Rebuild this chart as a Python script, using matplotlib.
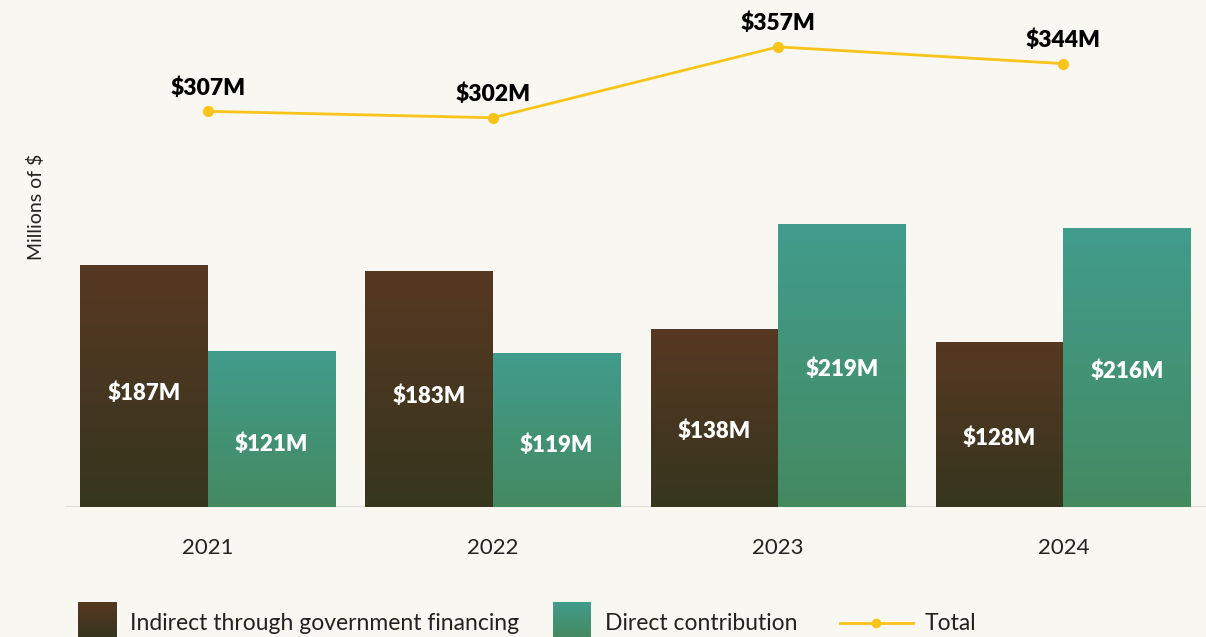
import matplotlib
matplotlib.use("Agg")
import matplotlib.pyplot as plt
import numpy as np
from matplotlib.colors import LinearSegmentedColormap
from matplotlib.lines import Line2D

# data
years = ["2021", "2022", "2023", "2024"]
indirect = [187, 183, 138, 128]
direct = [121, 119, 219, 216]
total = [307, 302, 357, 344]

BG = "#f8f7f1"
BROWN = ("#573822", "#36361f")   # top, bottom
TEAL = ("#419c8c", "#448a61")
YELLOW = "#f8c41a"

plt.rcParams["font.family"] = ["Lato", "DejaVu Sans"]

fig = plt.figure(figsize=(12.06, 6.37), dpi=100, facecolor=BG)
ax = fig.add_axes([65 / 1206, 130 / 637, 1141 / 1206, 497 / 637])
ax.set_facecolor(BG)

x = np.arange(len(years))
w = 0.447


def grad_bar(ax, x0, x1, y0, y1, colors):
    cmap = LinearSegmentedColormap.from_list("g", [colors[1], colors[0]])
    grad = np.linspace(0, 1, 256).reshape(-1, 1)
    ax.imshow(grad, cmap=cmap, origin="lower", aspect="auto",
              extent=(x0, x1, y0, y1), zorder=2, interpolation="bilinear")


def label_y(v):
    # labels sit a little below the bar middle on shorter bars
    return 0.594 * v - 23


for i in range(len(years)):
    grad_bar(ax, x[i] - w, x[i], 0, indirect[i], BROWN)
    grad_bar(ax, x[i], x[i] + w, 0, direct[i], TEAL)
    ax.text(x[i] - w / 2, label_y(indirect[i]), f"${indirect[i]}M", color="white",
            fontsize=16, fontweight="heavy", ha="center", va="center", zorder=4)
    ax.text(x[i] + w / 2, label_y(direct[i]), f"${direct[i]}M", color="white",
            fontsize=16, fontweight="heavy", ha="center", va="center", zorder=4)

ax.plot(x, total, color=YELLOW, lw=2, marker="o", ms=7, zorder=5)
for i in range(len(years)):
    ax.text(x[i], total[i] + 18, f"${total[i]}M", color="black", fontsize=16.5,
            fontweight="heavy", ha="center", va="center", zorder=6)

ax.set_xlim(-0.5, 3.5)
ax.set_ylim(0, 385.6)
ax.axhline(0, color="#dcdcd6", lw=1.5, zorder=1)
for s in ax.spines.values():
    s.set_visible(False)
ax.set_yticks([])
ax.set_xticks(x)
ax.set_xticklabels(years, fontsize=16, color="#222222")
ax.tick_params(axis="x", length=0, pad=22)

fig.text(36 / 1206, 1 - 207 / 637, "Millions of $", rotation=90, fontsize=14,
         color="#222222", ha="center", va="center")

# legend
legend_items = [("Indirect through government financing", BROWN, 78),
                ("Direct contribution", TEAL, 553)]
for label, colors, px in legend_items:
    lax = fig.add_axes([px / 1206, 0, 38 / 1206, 35 / 637])
    lax.set_axis_off()
    cmap = LinearSegmentedColormap.from_list("g", [colors[1], colors[0]])
    lax.imshow(np.linspace(0, 1, 64).reshape(-1, 1), cmap=cmap, origin="lower",
               aspect="auto", extent=(0, 1, 0, 1))
    fig.text((px + 52) / 1206, 1 - 623 / 637, label, fontsize=16.5,
             color="#222222", va="center", ha="left")

fig.add_artist(Line2D([840 / 1206, 913 / 1206], [1 - 623 / 637] * 2,
                      color=YELLOW, lw=2, transform=fig.transFigure))
fig.add_artist(Line2D([876 / 1206], [1 - 623 / 637], marker="o", ms=6,
                      color=YELLOW, transform=fig.transFigure))
fig.text(925 / 1206, 1 - 623 / 637, "Total", fontsize=16.5,
         color="#222222", va="center", ha="left")

fig.savefig("out.png", dpi=100, facecolor=BG)
